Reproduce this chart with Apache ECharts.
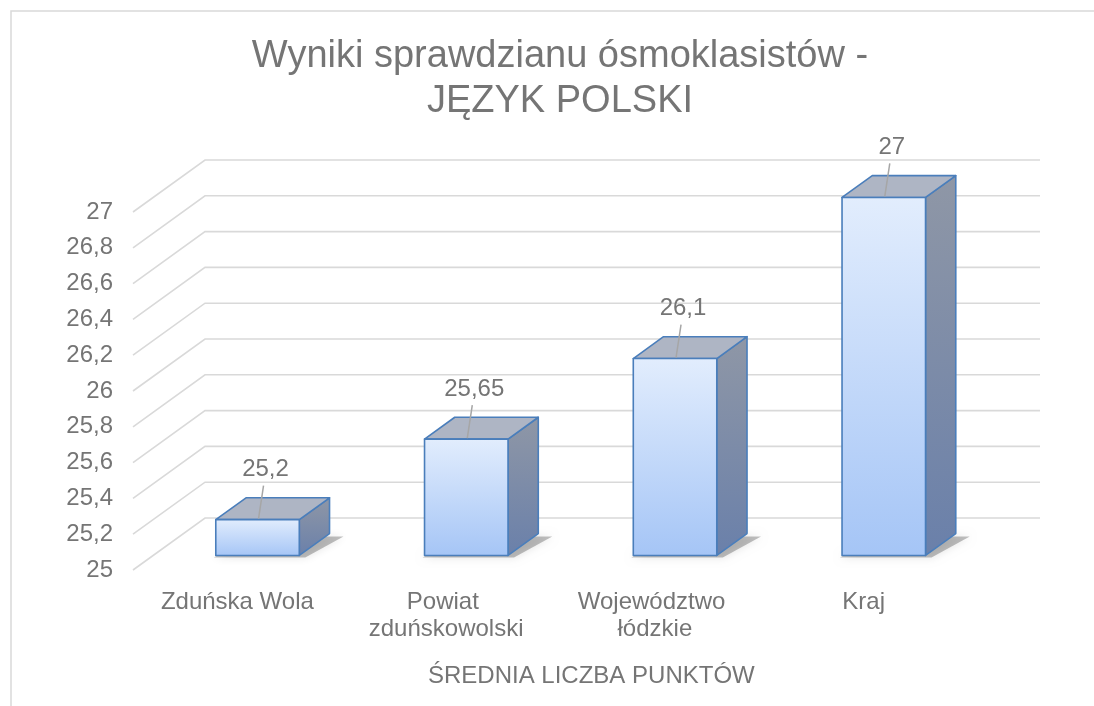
<!DOCTYPE html>
<html>
<head>
<meta charset="utf-8">
<style>
  html, body { margin: 0; padding: 0; background: #fff; }
  #wyniki { width: 1094px; height: 706px; }
</style>
<script src="https://cdn.jsdelivr.net/npm/echarts@6/dist/echarts.min.js"></script>
</head>
<body>
<div id="wyniki"></div>
<script>
var categories = ['Zduńska Wola', 'Powiat zduńskowolski', 'Województwo łódzkie', 'Kraj'];
var srednia = [25.2, 25.65, 26.1, 27];
var yTicks = [25, 25.2, 25.4, 25.6, 25.8, 26, 26.2, 26.4, 26.6, 26.8, 27];

var dom = document.getElementById('wyniki');
var myChart = echarts.init(dom, null, { renderer: 'canvas' });

var FONT = '"Liberation Sans", Arial, sans-serif';
var GREY = '#757575';
// glebokosc sceny 3D (przesuniecie tylnej sciany)
var DX = 72, DY = -52;
var FRONT = 0.28, BACK = 0.7;

function fmt(v) {
  return String(Math.round(v * 100) / 100).replace('.', ',');
}

function renderWall(params, api) {
  var v = api.value(0);
  var cs = params.coordSys;
  var y = api.coord([0, v])[1];
  var xl = cs.x, xr = cs.x + cs.width;
  return {
    type: 'polyline',
    shape: { points: [[xl, y], [xl + DX, y + DY], [xr + DX, y + DY]] },
    style: { stroke: '#d9d9d9', lineWidth: 1.6, fill: null },
    silent: true
  };
}

function renderBar(params, api) {
  var i = api.value(0), v = api.value(1);
  var top = api.coord([i, v]);
  var base = api.coord([i, yTicks[0]]);
  var w = api.size([1, 0])[0] * 0.4;
  var x0 = top[0] - w / 2 + FRONT * DX, x1 = x0 + w;
  var yT = top[1] + FRONT * DY, yB = base[1] + FRONT * DY;
  var dx = (BACK - FRONT) * DX, dy = (BACK - FRONT) * DY;
  var edge = { stroke: '#4a7ebb', lineWidth: 1.6, lineJoin: 'round' };
  var cx = (x0 + x1) / 2;
  return {
    type: 'group',
    children: [
      {
        type: 'polygon',
        shape: { points: [[x0 - 2, yB + 2], [x1 + 6, yB + 2], [x1 + dx + 14, yB + dy + 3], [x0 + dx + 6, yB + dy + 3]] },
        style: { fill: 'rgba(30,30,30,0.28)', shadowBlur: 8, shadowColor: 'rgba(0,0,0,0.4)' },
        silent: true
      },
      {
        type: 'polygon',
        shape: { points: [[x1, yT], [x1 + dx, yT + dy], [x1 + dx, yB + dy], [x1, yB]] },
        style: Object.assign({
          fill: new echarts.graphic.LinearGradient(0, 0, 0, 1, [
            { offset: 0, color: '#8f97a6' }, { offset: 1, color: '#6a80aa' }
          ])
        }, edge)
      },
      {
        type: 'polygon',
        shape: { points: [[x0, yT], [x0 + dx, yT + dy], [x1 + dx, yT + dy], [x1, yT]] },
        style: Object.assign({ fill: '#aeb5c4' }, edge)
      },
      {
        type: 'rect',
        shape: { x: x0, y: yT, width: w, height: yB - yT },
        style: Object.assign({
          fill: new echarts.graphic.LinearGradient(0, 0, 0, 1, [
            { offset: 0, color: '#e2edfd' }, { offset: 1, color: '#a5c5f6' }
          ])
        }, edge)
      },
      {
        type: 'line',
        shape: { x1: cx + 6, y1: yT - 34, x2: cx + 1, y2: yT - 1 },
        style: { stroke: '#a6a6a6', lineWidth: 1.5 }
      },
      {
        type: 'text',
        style: {
          x: cx + 8, y: yT - 50, text: fmt(v), align: 'center', verticalAlign: 'middle',
          fill: GREY, font: '24px ' + FONT
        }
      }
    ]
  };
}

var option = {
  animation: false,
  title: {
    text: 'Wyniki sprawdzianu ósmoklasistów -\nJĘZYK POLSKI',
    left: 560,
    textAlign: 'center',
    top: 34,
    padding: 0,
    textStyle: { fontFamily: FONT, fontSize: 38, fontWeight: 'normal', color: GREY, lineHeight: 45 }
  },
  grid: { left: 133, right: 126, top: 212, bottom: 136 },
  xAxis: {
    type: 'category',
    data: categories,
    axisLine: { show: false },
    axisTick: { show: false },
    axisLabel: {
      margin: 19, fontSize: 24, fontFamily: FONT, color: GREY, lineHeight: 27,
      width: 190, overflow: 'break', interval: 0
    }
  },
  yAxis: {
    type: 'value',
    min: yTicks[0],
    max: yTicks[yTicks.length - 1],
    interval: 0.2,
    splitLine: { show: false },
    axisLine: { show: false },
    axisTick: { show: false },
    axisLabel: { margin: 20, fontSize: 24, fontFamily: FONT, color: GREY, formatter: fmt }
  },
  graphic: [
    {
      type: 'rect', silent: true, z: -1,
      shape: { x: 11, y: 11, width: 1200, height: 800 },
      style: { fill: null, stroke: '#d9d9d9', lineWidth: 1.5 }
    },
    {
      type: 'text', left: 428, top: 664,
      style: { text: 'ŚREDNIA LICZBA PUNKTÓW', fill: GREY, font: '24px ' + FONT }
    }
  ],
  series: [
    {
      type: 'custom',
      renderItem: renderWall,
      data: yTicks.map(function (v) { return [v]; }),
      encode: { y: 0 },
      z: 1,
      silent: true
    },
    {
      type: 'custom',
      renderItem: renderBar,
      data: srednia.map(function (v, i) { return [i, v]; }),
      encode: { x: 0, y: 1 },
      z: 2
    }
  ]
};

if (option && typeof option === 'object') {
  myChart.setOption(option);
}

window.addEventListener('resize', myChart.resize);
</script>
</body>
</html>
